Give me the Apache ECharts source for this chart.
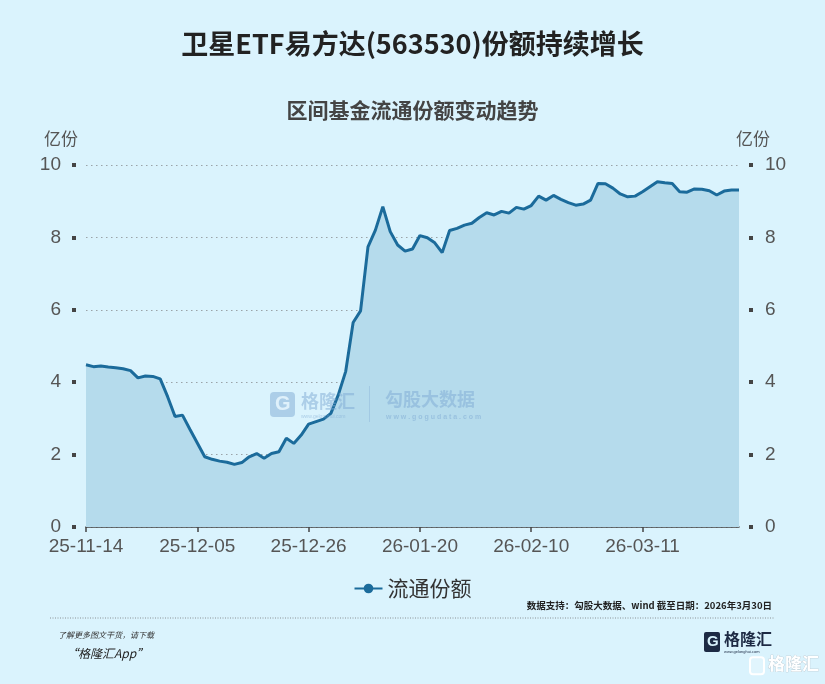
<!DOCTYPE html>
<html>
<head>
<meta charset="utf-8">
<script src="https://cdn.jsdelivr.net/npm/echarts@6/dist/echarts.min.js"></script>
<style>
html,body{margin:0;padding:0;background:#daf3fd;}
#c{width:825px;height:684px;}
</style>
</head>
<body>
<div id="c"></div>
<script>
const categories = [
 "25-11-14","25-11-17","25-11-18","25-11-19","25-11-20","25-11-21","25-11-24","25-11-25","25-11-26","25-11-27","25-11-28",
 "25-12-01","25-12-02","25-12-03","25-12-04","25-12-05","25-12-08","25-12-09","25-12-10","25-12-11","25-12-12",
 "25-12-15","25-12-16","25-12-17","25-12-18","25-12-19","25-12-22","25-12-23","25-12-24","25-12-25","25-12-26",
 "25-12-29","25-12-30","25-12-31","26-01-05","26-01-06","26-01-07","26-01-08","26-01-09","26-01-12","26-01-13",
 "26-01-14","26-01-15","26-01-16","26-01-19","26-01-20","26-01-21","26-01-22","26-01-23","26-01-26","26-01-27",
 "26-01-28","26-01-29","26-01-30","26-02-02","26-02-03","26-02-04","26-02-05","26-02-06","26-02-09","26-02-10",
 "26-02-11","26-02-12","26-02-13","26-02-24","26-02-25","26-02-26","26-02-27","26-03-02","26-03-03","26-03-04",
 "26-03-05","26-03-06","26-03-09","26-03-10","26-03-11","26-03-12","26-03-13","26-03-16","26-03-17","26-03-18",
 "26-03-19","26-03-20","26-03-23","26-03-24","26-03-25","26-03-26","26-03-27","26-03-30"
];
const shares = [
 4.48,4.43,4.45,4.42,4.40,4.37,4.32,4.12,4.17,4.16,4.09,
 3.60,3.05,3.09,2.70,2.32,1.94,1.87,1.82,1.79,1.73,
 1.78,1.94,2.03,1.90,2.03,2.08,2.45,2.31,2.54,2.84,
 2.91,2.98,3.14,3.65,4.30,5.65,5.97,7.74,8.20,8.85,
 8.16,7.79,7.62,7.68,8.05,7.99,7.85,7.58,8.19,8.25,
 8.34,8.39,8.55,8.68,8.62,8.72,8.67,8.83,8.78,8.88,
 9.14,9.03,9.16,9.05,8.96,8.89,8.92,9.03,9.49,9.48,
 9.36,9.20,9.12,9.14,9.26,9.40,9.54,9.51,9.49,9.26,
 9.25,9.34,9.33,9.29,9.17,9.28,9.31,9.31
];
const yTicks = {min:0, max:10, interval:2};
const seriesName = "流通份额";

const chart = echarts.init(document.getElementById('c'), null, {renderer:'canvas'});
const FONT = '"Noto Sans CJK SC", "Noto Sans", sans-serif';
const LINE = '#1b6b9b';
const WM = 'rgba(125,170,212,0.5)';
const option = {
  backgroundColor:'#daf3fd',
  animation:false,
  title:[
    {text:'卫星ETF易方达(563530)份额持续增长', left:'center', top:25,
     textStyle:{fontFamily:FONT, fontSize:27, fontWeight:'bold', color:'#222'}},
    {text:'区间基金流通份额变动趋势', left:'center', top:95,
     textStyle:{fontFamily:FONT, fontSize:21, fontWeight:'bold', color:'#444'}}
  ],
  legend:{
    top:573, left:'center', data:[seriesName], itemWidth:28, itemHeight:12,
    textStyle:{fontFamily:FONT, fontSize:21, color:'#333'}
  },
  grid:{left:86, right:86, top:165, bottom:157},
  xAxis:{
    type:'category', data:categories, boundaryGap:false,
    axisLine:{lineStyle:{color:'#444', width:1.5}},
    axisTick:{show:true, interval:14, length:5, lineStyle:{color:'#444', width:1.5}},
    axisLabel:{interval:14, fontFamily:'"Liberation Sans", Arial, sans-serif', fontSize:19, color:'#555', margin:10},
    splitLine:{show:false}
  },
  yAxis:[
    {type:'value', min:yTicks.min, max:yTicks.max, interval:yTicks.interval, position:'left', offset:10,
     axisLine:{show:false},
     axisTick:{show:true, length:4, lineStyle:{color:'#444', width:4}},
     axisLabel:{fontFamily:'"Liberation Sans", Arial, sans-serif', fontSize:19, color:'#555', margin:15},
     splitLine:{show:true, lineStyle:{color:'#9aa3a8', type:[1.5,3.5], width:1.2}}
    },
    {type:'value', min:yTicks.min, max:yTicks.max, interval:yTicks.interval, position:'right', offset:10,
     axisLine:{show:false},
     axisTick:{show:true, length:4, lineStyle:{color:'#444', width:4}},
     axisLabel:{fontFamily:'"Liberation Sans", Arial, sans-serif', fontSize:19, color:'#555', margin:16},
     splitLine:{show:false}
    }
  ],
  series:[{
    name:seriesName, type:'line', data:shares, yAxisIndex:0,
    showSymbol:false, symbol:'circle', symbolSize:11,
    itemStyle:{color:LINE},
    lineStyle:{color:LINE, width:3},
    areaStyle:{color:'#b5dbec', opacity:1}
  }],
  graphic:[
    {type:'text', left:44, top:130, style:{text:'亿份', font:'17px '+FONT, fill:'#555'}},
    {type:'text', left:736, top:130, style:{text:'亿份', font:'17px '+FONT, fill:'#555'}},
    // watermark
    {type:'group', left:270, top:386, silent:true, z:100, children:[
      {type:'rect', z:100, shape:{x:0, y:2, width:25, height:25, r:4}, style:{fill:WM}},
      {type:'text', z:101, x:5, y:4, style:{text:'G', font:'bold 20px "Liberation Sans", sans-serif', fill:'rgba(225,242,252,0.95)'}},
      {type:'text', z:100, x:31, y:2, style:{text:'格隆汇', font:'bold 18px '+FONT, fill:WM}},
      {type:'text', z:100, x:31, y:24, style:{text:'www.gelonghui.com', font:'5px sans-serif', fill:WM}},
      {type:'rect', z:100, shape:{x:99, y:-4, width:1, height:36}, style:{fill:'rgba(125,170,212,0.35)'}},
      {type:'text', z:100, x:115, y:0, style:{text:'勾股大数据', font:'bold 18px '+FONT, fill:WM}},
      {type:'text', z:100, x:116, y:24, style:{text:'w w w . g o g u d a t a . c o m', font:'bold 7px sans-serif', fill:WM}}
    ]},
    {type:'text', right:53, top:601, style:{text:'数据支持：勾股大数据、wind 截至日期：2026年3月30日', font:'bold 9.5px '+FONT, fill:'#222'}},
    {type:'line', shape:{x1:50, y1:618, x2:775, y2:618}, style:{stroke:'#8a9095', lineWidth:1, lineDash:[1,1.5]}},
    {type:'text', left:58, top:631, style:{text:'了解更多图文干货，请下载', font:'italic 8px '+FONT, fill:'#333'}},
    {type:'text', left:66, top:647, style:{text:'“格隆汇App”', font:'italic 12px '+FONT, fill:'#222'}},
    {type:'group', left:704, top:631, children:[
      {type:'rect', shape:{x:0, y:2, width:16, height:20, r:2}, style:{fill:'#1d2a44'}},
      {type:'text', x:3, y:4, style:{text:'G', font:'bold 15px "Liberation Sans", sans-serif', fill:'#daf3fd'}},
      {type:'text', x:20, y:1, style:{text:'格隆汇', font:'bold 16px '+FONT, fill:'#1d2a44'}},
      {type:'text', x:20, y:20, style:{text:'www.gelonghui.com', font:'4px sans-serif', fill:'#1d2a44'}}
    ]},
    {type:'group', left:749, top:655, children:[
      {type:'rect', shape:{x:0, y:2, width:14, height:17, r:3}, style:{fill:'rgba(255,255,255,0.2)', stroke:'#ffffff', lineWidth:2}},
      {type:'text', x:18, y:0, style:{text:'格隆汇', font:'bold 17px '+FONT, fill:'#ffffff', stroke:'#b8c4cc', lineWidth:0.6}}
    ]}
  ]
};
chart.setOption(option);
</script>
</body>
</html>
